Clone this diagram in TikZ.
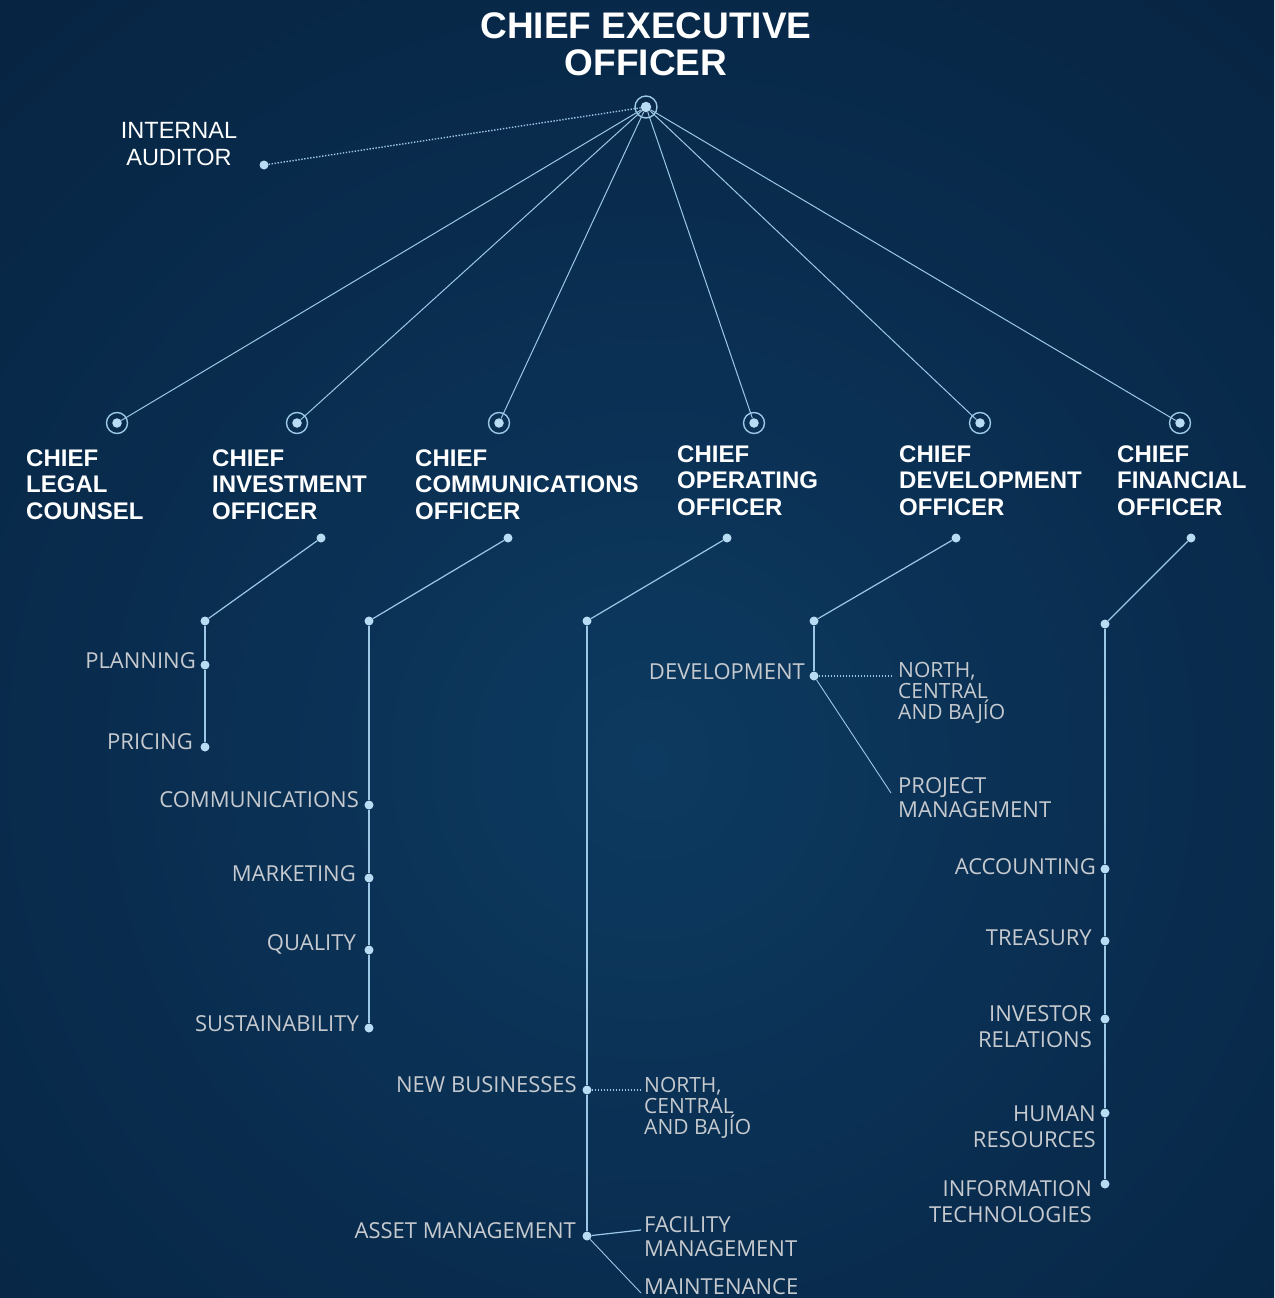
\documentclass[tikz,border=0pt]{standalone}
\usepackage{fontspec}
\setmainfont{Liberation Sans}
\newfontfamily\osans{Open Sans}
\definecolor{bgin}{HTML}{0D3A60}
\definecolor{bgmid}{HTML}{092C4E}
\definecolor{bgmid2}{HTML}{061F3A}
\definecolor{bgout}{HTML}{04152A}
\definecolor{linec}{HTML}{9CC8E6}
\definecolor{dotc}{HTML}{B8DCF4}
\definecolor{subc}{HTML}{C6CACF}
\pgfdeclareradialshading{bgshade}{\pgfpoint{0bp}{0bp}}{color(0bp)=(bgin); color(14bp)=(bgmid); color(32bp)=(bgmid2); color(50bp)=(bgout)}
\newcommand\titlefont{\bfseries\fontsize{37}{37}\selectfont}
\newcommand\headfont{\bfseries\fontsize{24}{26.5}\selectfont}
\newcommand\audfont{\fontsize{23.5}{27}\selectfont}
\newcommand\subfont{\osans\fontsize{22}{26}\selectfont}
\newcommand\subfontm{\osans\fontsize{22}{24}\selectfont}
\newcommand\subfontn{\osans\fontsize{21}{21}\selectfont}
\tikzset{
  conn/.style={draw=linec, line width=1.2pt},
  ceoline/.style={draw=linec, line width=1pt},
  dotline/.style={draw=linec, line width=1.4pt, dash pattern=on 1.4pt off 1.6pt},
  ring/.style={circle, draw=linec, line width=1.4pt, minimum size=21pt, inner sep=0pt},
  bdot/.style={circle, fill=dotc, minimum size=9.5pt, inner sep=0pt},
  sdot/.style={circle, fill=dotc, minimum size=9pt, inner sep=0pt},
  head/.style={text=white, font=\headfont, align=left, inner sep=0pt, anchor=north west},
  sublab/.style={text=subc, font=\subfont, inner sep=0pt},
}
\begin{document}
\begin{tikzpicture}[x=1pt,y=-1pt]
\useasboundingbox (0,0) rectangle (1274,1298);
\begin{scope}
\clip (0,0) rectangle (1274,1298);
\fill[bgout] (0,0) rectangle (1274,1298);
\shade[shading=bgshade] (650,760) circle (1000pt);
\end{scope}

% CEO
\node[text=white, font=\titlefont, align=center, inner sep=0pt, anchor=north] (ceotitle) at (646,12.8) {CHIEF EXECUTIVE\\OFFICER};
\node[ring, minimum size=22pt] (ceoring) at (646,107) {};
\node[bdot, minimum size=10.5pt] (ceo) at (646,107) {};

% Internal auditor
\node[text=white, font=\audfont, align=center, inner sep=0pt, anchor=north] (audtext) at (179,122.6) {INTERNAL\\AUDITOR};
\node[sdot] (auddot) at (264,165) {};
\draw[dotline] (auddot) -- (ceo);

% Chief rings and dots
\node[ring] (r1) at (117,423) {};
\node[ring] (r2) at (297,423) {};
\node[ring] (r3) at (499,423) {};
\node[ring] (r4) at (754,423) {};
\node[ring] (r5) at (980,423) {};
\node[ring] (r6) at (1180,423) {};
\node[bdot] (c1) at (117,423) {};
\node[bdot] (c2) at (297,423) {};
\node[bdot] (c3) at (499,423) {};
\node[bdot] (c4) at (754,423) {};
\node[bdot] (c5) at (980,423) {};
\node[bdot] (c6) at (1180,423) {};
\draw[ceoline] (ceo) -- (c1);
\draw[ceoline] (ceo) -- (c2);
\draw[ceoline] (ceo) -- (c3);
\draw[ceoline] (ceo) -- (c4);
\draw[ceoline] (ceo) -- (c5);
\draw[ceoline] (ceo) -- (c6);

% Chief labels
\node[head] (h1) at (26,449.4) {CHIEF\\LEGAL\\COUNSEL};
\node[head] (h2) at (212,449.4) {CHIEF\\INVESTMENT\\OFFICER};
\node[head] (h3) at (415,449.4) {CHIEF\\COMMUNICATIONS\\OFFICER};
\node[head] (h4) at (677,445.4) {CHIEF\\OPERATING\\OFFICER};
\node[head] (h5) at (899,445.4) {CHIEF\\DEVELOPMENT\\OFFICER};
\node[head] (h6) at (1117,445.4) {CHIEF\\FINANCIAL\\OFFICER};

% label dots and branch dots
\node[sdot] (ld2) at (321,538) {};
\node[sdot] (ld3) at (508,538) {};
\node[sdot] (ld4) at (727,538) {};
\node[sdot] (ld5) at (956,538) {};
\node[sdot] (ld6) at (1191,538) {};
\node[sdot] (b2) at (205,621) {};
\node[sdot] (b3) at (369,621) {};
\node[sdot] (b4) at (587,621) {};
\node[sdot] (b5) at (814,621) {};
\node[sdot] (b6) at (1105,624) {};
\draw[conn] (ld2) -- (b2);
\draw[conn] (ld3) -- (b3);
\draw[conn] (ld4) -- (b4);
\draw[conn] (ld5) -- (b5);
\draw[conn] (ld6) -- (b6);

% Investment
\node[sdot] (p1) at (205,665) {};
\node[sdot] (p2) at (205,747) {};
\draw[conn] (b2) -- (p1) -- (p2);
\node[sublab, anchor=base east] (planning) at (196,668.9) {PLANNING};
\node[sublab, anchor=base east] (pricing) at (193,749.9) {PRICING};

% Communications
\node[sdot] (k1) at (369,805) {};
\node[sdot] (k2) at (369,878) {};
\node[sdot] (k3) at (369,950) {};
\node[sdot] (k4) at (369,1028) {};
\draw[conn] (b3) -- (k1) -- (k2) -- (k3) -- (k4);
\node[sublab, anchor=base east] (comms) at (359,807.9) {COMMUNICATIONS};
\node[sublab, anchor=base east] (marketing) at (356,881.9) {MARKETING};
\node[sublab, anchor=base east] (quality) at (356,950.9) {QUALITY};
\node[sublab, anchor=base east] (sustain) at (359,1031.9) {SUSTAINABILITY};

% Operating
\node[sdot] (o1) at (587,1090) {};
\node[sdot] (o2) at (587,1236) {};
\draw[conn] (b4) -- (o1) -- (o2);
\coordinate (onb) at (640,1090);
\coordinate (ofm) at (641,1230);
\coordinate (omt) at (641,1293);
\draw[dotline, line width=1.2pt] (o1) -- (onb);
\draw[conn] (o2) -- (ofm);
\draw[conn, line width=0.9pt] (o2) -- (omt);
\node[sublab, anchor=base east] (newbus) at (577,1092.9) {NEW BUSINESSES};
\node[sublab, anchor=base east] (assetm) at (576,1238.9) {ASSET MANAGEMENT};
\node[sublab, font=\subfontn, align=left, anchor=north west] (onorth) at (644,1077.5) {NORTH,\\CENTRAL\\AND BAJÍO};
\node[sublab, font=\subfontm, align=left, anchor=north west] (facility) at (644,1216.2) {FACILITY\\MANAGEMENT};
\node[sublab, anchor=base west] (maint) at (644,1294.9) {MAINTENANCE};

% Development
\node[sdot] (e1) at (814,676) {};
\draw[conn] (b5) -- (e1);
\coordinate (enb) at (893,676);
\coordinate (epm) at (891,793);
\draw[dotline, line width=1.2pt] (e1) -- (enb);
\draw[conn, line width=0.9pt] (e1) -- (epm);
\node[sublab, anchor=base east] (devel) at (805,679.9) {DEVELOPMENT};
\node[sublab, font=\subfontn, align=left, anchor=north west] (enorth) at (898,662.5) {NORTH,\\CENTRAL\\AND BAJÍO};
\node[sublab, font=\subfontm, align=left, anchor=north west] (project) at (898,777.2) {PROJECT\\MANAGEMENT};

% Financial
\node[sdot] (f1) at (1105,869) {};
\node[sdot] (f2) at (1105,941) {};
\node[sdot] (f3) at (1105,1019) {};
\node[sdot] (f4) at (1105,1113) {};
\node[sdot] (f5) at (1105,1184) {};
\draw[conn] (b6) -- (f1) -- (f2) -- (f3) -- (f4) -- (f5);
\node[sublab, anchor=base east] (account) at (1096,874.9) {ACCOUNTING};
\node[sublab, anchor=base east] (treasury) at (1092,945.9) {TREASURY};
\node[sublab, align=right, anchor=north east] (investor) at (1092,1005.2) {INVESTOR\\RELATIONS};
\node[sublab, align=right, anchor=north east] (human) at (1096,1105.2) {HUMAN\\RESOURCES};
\node[sublab, align=right, anchor=north east] (infotech) at (1092,1180.2) {INFORMATION\\TECHNOLOGIES};
\end{tikzpicture}
\end{document}
